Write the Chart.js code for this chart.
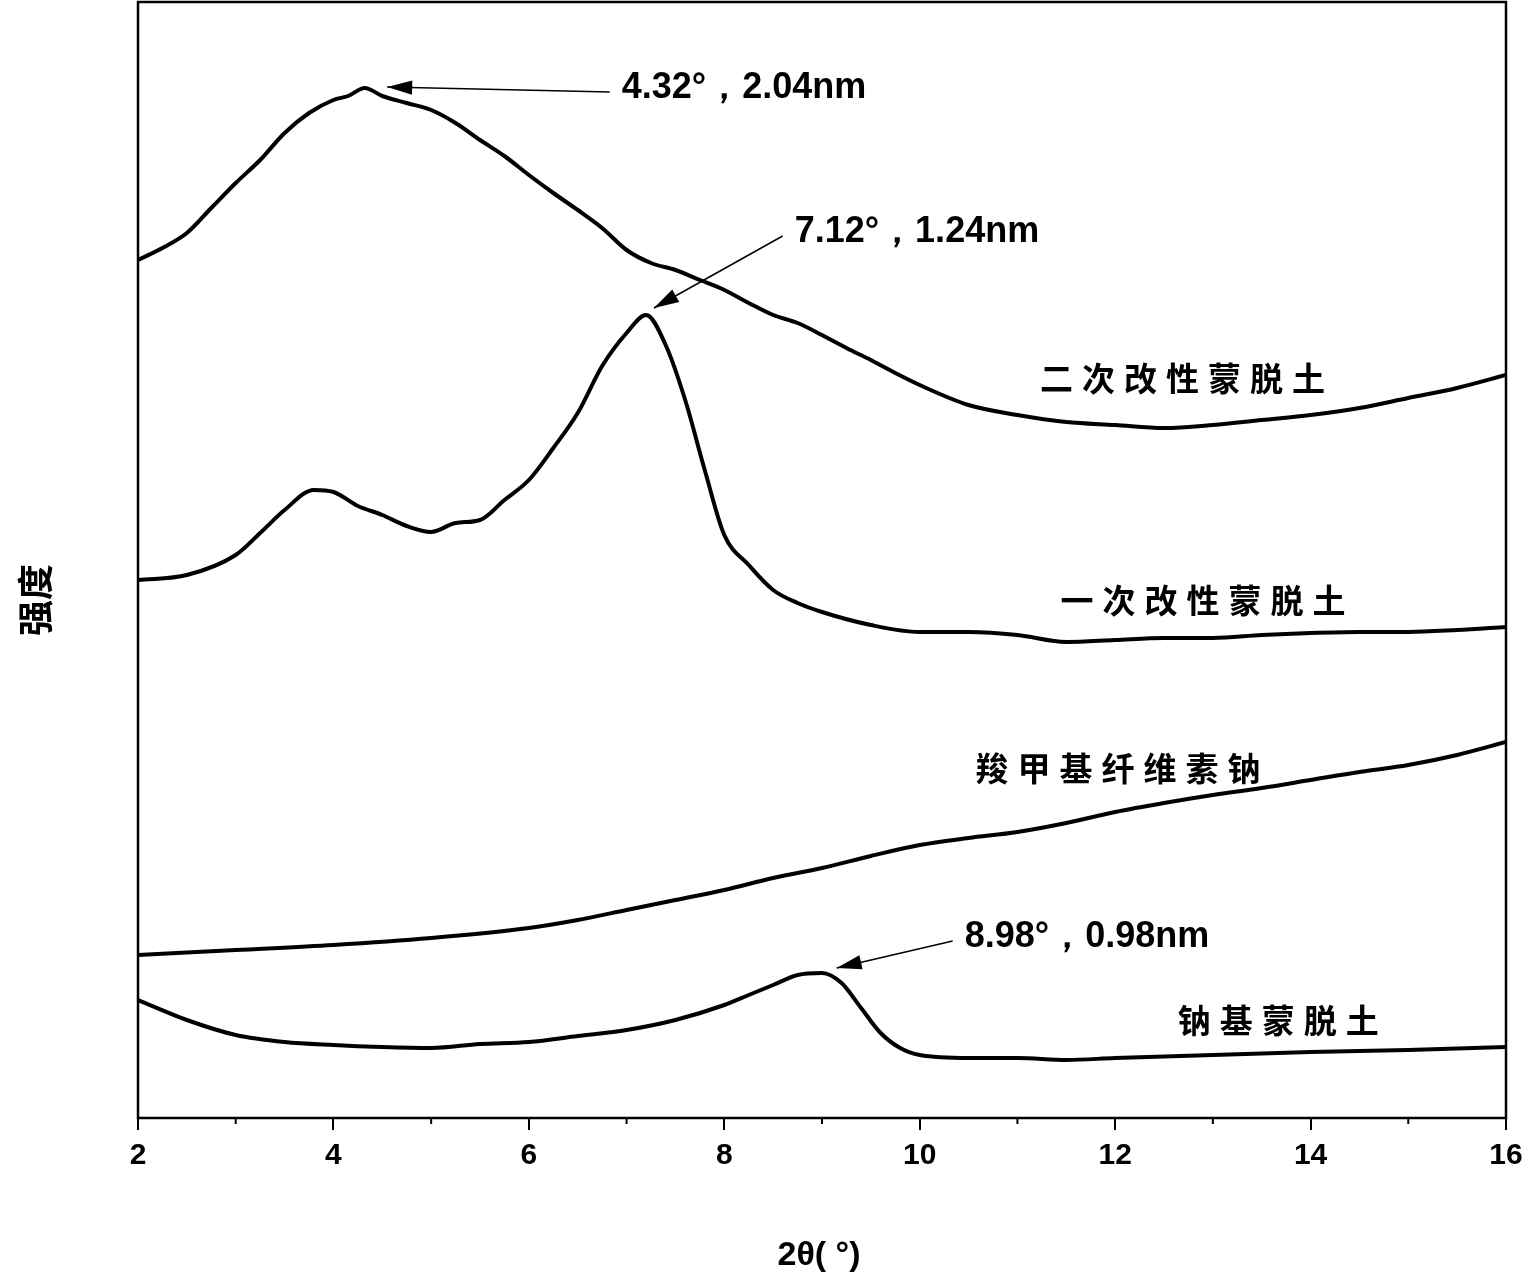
<!DOCTYPE html>
<html>
<head>
<meta charset="utf-8">
<script src="https://cdn.jsdelivr.net/npm/chart.js@4"></script>
<style>
  body { margin: 0; background: #fff; }
  #wrap { width: 1532px; height: 1286px; }
</style>
</head>
<body>
<div id="wrap"><canvas id="c"></canvas></div>
<script>
// intensity in arbitrary units (offset stacks), x in 2θ degrees
var xErci = [2, 2.25, 2.5, 2.75, 3, 3.25, 3.5, 3.75, 4, 4.15, 4.32, 4.5, 4.75, 5, 5.25, 5.5, 5.75, 6, 6.25, 6.5, 6.75, 7, 7.25, 7.5, 7.75, 8, 8.25, 8.5, 8.75, 9, 9.25, 9.5, 9.75, 10, 10.5, 11, 11.5, 12, 12.5, 13, 13.5, 14, 14.5, 15, 15.5, 16];
var yErci = [858, 870, 885, 910, 935, 958, 985, 1005, 1018, 1022, 1030, 1022, 1015, 1008, 995, 978, 962, 943, 925, 908, 890, 868, 855, 848, 838, 828, 815, 803, 795, 783, 770, 758, 745, 733, 713, 703, 696, 693, 690, 693, 698, 703, 710, 720, 730, 743];

var xYici = [2, 2.5, 3, 3.25, 3.5, 3.8, 4, 4.25, 4.5, 4.75, 5, 5.25, 5.5, 5.75, 6, 6.25, 6.5, 6.75, 7, 7.2, 7.4, 7.6, 7.8, 8, 8.25, 8.5, 8.75, 9, 9.5, 10, 10.5, 11, 11.5, 12, 12.5, 13, 13.5, 14, 14.5, 15, 15.5, 16];
var yYici = [538, 543, 563, 585, 608, 628, 626, 612, 603, 592, 586, 595, 598, 618, 638, 670, 705, 752, 785, 803, 773, 718, 648, 583, 553, 528, 515, 506, 493, 486, 486, 483, 476, 478, 480, 480, 483, 485, 486, 486, 488, 491];

var xCmc = [2, 3, 4, 5, 6, 6.5, 7, 7.5, 8, 8.5, 9, 9.5, 10, 10.5, 11, 11.5, 12, 12.5, 13, 13.5, 14, 14.5, 15, 15.5, 16];
var yCmc = [163, 168, 173, 180, 190, 198, 208, 218, 228, 240, 250, 262, 273, 280, 286, 295, 306, 315, 323, 330, 338, 346, 353, 363, 376];

var xNa = [2, 2.5, 3, 3.5, 4, 4.5, 5, 5.5, 6, 6.5, 7, 7.5, 8, 8.25, 8.5, 8.75, 9, 9.2, 9.4, 9.6, 9.8, 10, 10.5, 11, 11.5, 12, 13, 14, 15, 16];
var yNa = [118, 98, 83, 76, 73, 71, 70, 74, 76, 82, 88, 98, 113, 123, 133, 143, 145, 135, 110, 85, 70, 63, 60, 60, 58, 60, 63, 66, 68, 71];

var seriesNames = ['二次改性蒙脱土', '一次改性蒙脱土', '羧甲基纤维素钠', '钠基蒙脱土'];
var labelPos = [[11.23, 740], [11.44, 518], [10.57, 350], [12.64, 98]];
var peakNotes = [
  { text: '4.32°，2.04nm', tx: 6.95, ty: 1030, px: 4.55, py: 1031 },
  { text: '7.12°，1.24nm', tx: 8.72, ty: 886, px: 7.28, py: 810 },
  { text: '8.98°，0.98nm', tx: 10.46, ty: 181, px: 9.15, py: 150 }
];
var xTicks = [2, 4, 6, 8, 10, 12, 14, 16];

function pts(xs, ys) {
  return xs.map(function (x, i) { return { x: x, y: ys[i] }; });
}

var decor = {
  id: 'decor',
  afterDraw: function (chart) {
    var ctx = chart.ctx, a = chart.chartArea;
    var sx = chart.scales.x, sy = chart.scales.y;
    ctx.save();
    ctx.strokeStyle = '#000';
    ctx.lineWidth = 2.5;
    ctx.strokeRect(a.left, a.top, a.right - a.left, a.bottom - a.top);
    // minor ticks
    ctx.lineWidth = 2;
    for (var v = 3; v < 16; v += 2) {
      var px = sx.getPixelForValue(v);
      ctx.beginPath(); ctx.moveTo(px, a.bottom); ctx.lineTo(px, a.bottom + 6); ctx.stroke();
    }
    ctx.fillStyle = '#000';
    ctx.font = 'bold 33px "Noto Sans CJK SC", sans-serif';
    ctx.textBaseline = 'middle';
    ctx.textAlign = 'left';
    ctx.letterSpacing = '9px';
    seriesNames.forEach(function (n, i) {
      var p = labelPos[i];
      ctx.fillText(n, sx.getPixelForValue(p[0]), sy.getPixelForValue(p[1]));
    });
    ctx.letterSpacing = '0px';
    ctx.font = 'bold 36px "Liberation Sans", Arial, sans-serif';
    peakNotes.forEach(function (n) {
      var tx = sx.getPixelForValue(n.tx), ty = sy.getPixelForValue(n.ty);
      var px = sx.getPixelForValue(n.px), py = sy.getPixelForValue(n.py);
      ctx.fillText(n.text, tx, ty);
      var sx0 = tx - 12, sy0 = ty + 4;
      ctx.lineWidth = 1.5;
      ctx.beginPath(); ctx.moveTo(sx0, sy0); ctx.lineTo(px, py); ctx.stroke();
      var ang = Math.atan2(py - sy0, px - sx0);
      ctx.beginPath();
      ctx.moveTo(px, py);
      ctx.lineTo(px - 26 * Math.cos(ang - 0.28), py - 26 * Math.sin(ang - 0.28));
      ctx.lineTo(px - 26 * Math.cos(ang + 0.28), py - 26 * Math.sin(ang + 0.28));
      ctx.closePath(); ctx.fill();
    });
    // axis titles
    ctx.font = 'bold 34px "Liberation Sans", Arial, sans-serif';
    ctx.textAlign = 'center';
    ctx.fillText('2θ( °)', (a.left + a.right) / 2 - 3, 1256);
    ctx.save();
    ctx.translate(35, 600);
    ctx.rotate(-Math.PI / 2);
    ctx.font = 'bold 36px "Noto Sans CJK SC", sans-serif';
    ctx.fillText('强度', 0, 0);
    ctx.restore();
    ctx.restore();
  }
};

var line = { borderColor: '#000', borderWidth: 4, pointRadius: 0, fill: false, cubicInterpolationMode: 'monotone' };

new Chart(document.getElementById('c'), {
  type: 'line',
  data: {
    datasets: [
      Object.assign({ data: pts(xErci, yErci) }, line),
      Object.assign({ data: pts(xYici, yYici) }, line),
      Object.assign({ data: pts(xCmc, yCmc) }, line),
      Object.assign({ data: pts(xNa, yNa) }, line)
    ]
  },
  options: {
    responsive: true,
    maintainAspectRatio: false,
    animation: false,
    layout: { padding: { top: 2, right: 26, bottom: 0, left: 0 } },
    plugins: { legend: { display: false }, tooltip: { enabled: false } },
    scales: {
      x: {
        type: 'linear', min: 2, max: 16,
        afterBuildTicks: function (s) { s.ticks = xTicks.map(function (v) { return { value: v }; }); },
        afterFit: function (s) { s.height = 168; },
        grid: { drawOnChartArea: false, tickLength: 12, color: '#000', lineWidth: 2 },
        border: { display: false },
        ticks: { color: '#000', font: { family: '"Liberation Sans", Arial', size: 30, weight: 'bold' }, padding: 8 }
      },
      y: {
        min: 0, max: 1116,
        ticks: { display: false },
        grid: { display: false },
        border: { display: false },
        afterFit: function (s) { s.width = 138; }
      }
    }
  },
  plugins: [decor]
});
</script>
</body>
</html>
